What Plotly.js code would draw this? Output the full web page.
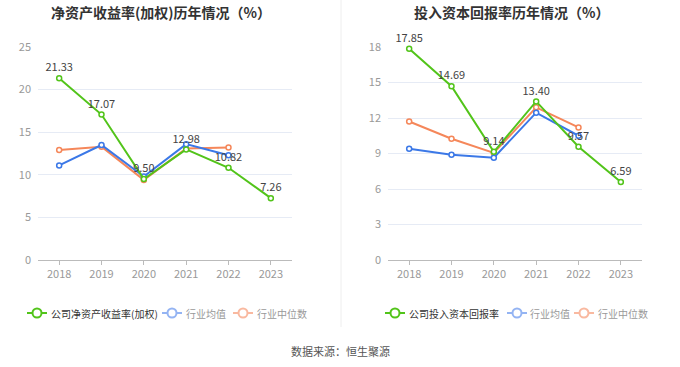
<!DOCTYPE html>
<html><head><meta charset="utf-8">
<script src="https://cdn.plot.ly/plotly-3.0.1.min.js"></script>
<style>html,body{margin:0;padding:0;background:#fff;}#chart{width:680px;height:367px;}</style>
</head><body><div id="chart"></div>
<script>
const years = ['2018','2019','2020','2021','2022','2023'];
const roeCompany = [21.33, 17.07, 9.50, 12.98, 10.82, 7.26];
const roeAvg = [11.1, 13.5, 9.8, 13.6, 12.3, null];
const roeMedian = [12.9, 13.3, 9.4, 13.1, 13.2, null];
const roicCompany = [17.85, 14.69, 9.14, 13.40, 9.57, 6.59];
const roicAvg = [9.4, 8.9, 8.65, 12.45, 10.5, null];
const roicMedian = [11.7, 10.25, 9.05, 12.9, 11.2, null];
const leftTicks = [0, 5, 10, 15, 20, 25];
const rightTicks = [0, 3, 6, 9, 12, 15, 18];
const leftLegend = ['公司净资产收益率(加权)', '行业均值', '行业中位数'];
const rightLegend = ['公司投入资本回报率', '行业均值', '行业中位数'];

const W = 680, H = 367;
const GREEN = '#52c41a', BLUE = '#3b78e7', ORANGE = '#f5875a';
const GREEN_L = '#52c41a', BLUE_L = '#94b4f3', ORANGE_L = '#f9b9a0';
const FONT = '"Noto Sans CJK SC", "Noto Sans", sans-serif';

function line(x, y, color, xa, ya, labels) {
  return {
    x: x, y: y, xaxis: xa, yaxis: ya, type: 'scatter',
    mode: labels ? 'lines+markers+text' : 'lines+markers',
    line: {color: color, width: 2},
    marker: {symbol: 'circle', size: 5, color: '#fff', line: {color: color, width: 1.5}},
    text: labels ? y.map(v => v.toFixed(2)) : undefined,
    textposition: 'top center',
    textfont: {size: 11, color: '#444', family: FONT},
    showlegend: false, hoverinfo: 'skip', cliponaxis: false
  };
}

const data = [
  line(years, roeMedian, ORANGE, 'x', 'y', false),
  line(years, roeAvg, BLUE, 'x', 'y', false),
  line(years, roeCompany, GREEN, 'x', 'y', true),
  line(years, roicMedian, ORANGE, 'x2', 'y2', false),
  line(years, roicAvg, BLUE, 'x2', 'y2', false),
  line(years, roicCompany, GREEN, 'x2', 'y2', true)
];

const yDom = [(H-260)/H, (H-47)/H];
function xax(dom, anchor) {
  return {domain: dom, anchor: anchor, type: 'category', range: [-0.5, 5.5],
    showgrid: false, zeroline: false, showline: true, linecolor: '#bbb', linewidth: 1,
    ticks: 'outside', ticklen: 4, tickcolor: '#bbb',
    tickfont: {size: 11, color: '#999', family: FONT}, fixedrange: true, automargin: false};
}
function yax(dom, anchor, max, ticks) {
  return {domain: dom, anchor: anchor, range: [0, max], tickvals: ticks,
    showgrid: true, gridcolor: '#e6ebf5', gridwidth: 1, zeroline: false, showline: false,
    ticks: '', ticklabelstandoff: 6, automargin: false,
    tickfont: {size: 11, color: '#999', family: FONT}, fixedrange: true};
}

const shapes = [{type: 'line', xref: 'paper', yref: 'paper', x0: 341/W, x1: 341/W,
  y0: (H-327)/H, y1: 1, line: {color: '#eeeeee', width: 1}}];
const annotations = [
  {text: '净资产收益率(加权)历年情况（%）', x: 161/W, y: (H-12)/H, xref: 'paper', yref: 'paper',
    xanchor: 'center', yanchor: 'middle',
    showarrow: false, font: {size: 14, color: '#333', family: FONT, weight: 'bold'}},
  {text: '投入资本回报率历年情况（%）', x: 511/W, y: (H-12)/H, xref: 'paper', yref: 'paper',
    xanchor: 'center', yanchor: 'middle',
    showarrow: false, font: {size: 14, color: '#333', family: FONT, weight: 'bold'}},
  {text: '数据来源：恒生聚源', x: 0.5, y: (H-351)/H, xref: 'paper', yref: 'paper',
    xanchor: 'center', yanchor: 'middle',
    showarrow: false, font: {size: 11, color: '#555', family: FONT}}
];

function addLegend(names, iconCenters, textStarts) {
  const colors = [GREEN_L, BLUE_L, ORANGE_L];
  const tcolors = ['#333', '#999', '#999'];
  const yc = (H - 313) / H;
  names.forEach((n, i) => {
    const cx = iconCenters[i];
    shapes.push({type: 'line', xref: 'paper', yref: 'paper', x0: (cx-10)/W, x1: (cx+10)/W,
      y0: yc, y1: yc, line: {color: colors[i], width: 2}});
    shapes.push({type: 'circle', xref: 'paper', yref: 'paper', x0: (cx-4.5)/W, x1: (cx+4.5)/W,
      y0: yc - 4.5/H, y1: yc + 4.5/H, fillcolor: '#fff', line: {color: colors[i], width: 2}});
    annotations.push({text: n, x: textStarts[i]/W, y: yc, xref: 'paper', yref: 'paper',
      xanchor: 'left', yanchor: 'middle', showarrow: false,
      font: {size: 10, color: tcolors[i], family: FONT}});
  });
}
addLegend(leftLegend, [37, 172, 243], [49, 184, 255]);
addLegend(rightLegend, [395, 517, 584], [407, 528, 596]);

const layout = {
  width: W, height: H, margin: {l: 0, r: 0, t: 0, b: 0, autoexpand: false},
  paper_bgcolor: '#fff', plot_bgcolor: '#fff', showlegend: false,
  font: {family: FONT},
  xaxis: xax([38/W, 292/W], 'y'),
  yaxis: yax(yDom, 'x', 25, leftTicks),
  xaxis2: xax([388/W, 642/W], 'y2'),
  yaxis2: yax(yDom, 'x2', 18, rightTicks),
  shapes: shapes,
  annotations: annotations
};
Plotly.newPlot('chart', data, layout, {displayModeBar: false, staticPlot: true});
</script></body></html>
